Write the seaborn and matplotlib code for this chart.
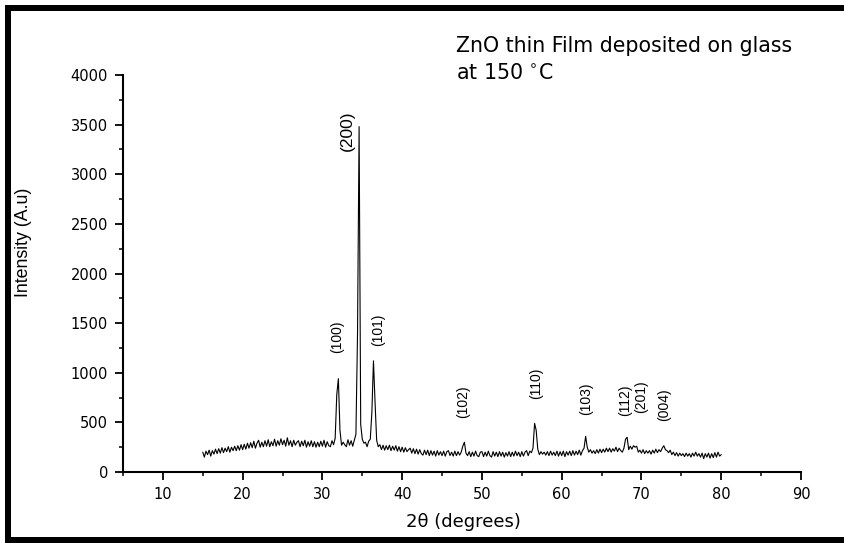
import numpy as np
import pandas as pd
import matplotlib
matplotlib.use("Agg")
import matplotlib.pyplot as plt
import seaborn as sns
from matplotlib.patches import Rectangle
from matplotlib.ticker import MultipleLocator

# ---------------- data ----------------
theta_start = 15.0
theta_step = 0.2
# one row per degree: values at .0, .2, .4, .6, .8
intensity = [
    200, 150, 210, 175, 220,   # 15
    160, 215, 180, 230, 185,   # 16
    235, 190, 245, 195, 240,   # 17
    205, 255, 200, 250, 215,   # 18
    260, 215, 265, 220, 275,   # 19
    225, 280, 230, 290, 240,   # 20
    295, 245, 310, 240, 290,   # 21
    320, 250, 300, 255, 315,   # 22
    260, 325, 255, 305, 265,   # 23
    330, 260, 315, 270, 335,   # 24
    275, 320, 260, 345, 270,   # 25
    315, 255, 320, 270, 300,   # 26
    315, 255, 310, 265, 320,   # 27
    250, 305, 260, 315, 255,   # 28
    305, 250, 300, 255, 310,   # 29
    260, 320, 250, 305, 265,   # 30
    255, 315, 275, 340, 780,   # 31
    940, 420, 270, 300, 275,   # 32
    255, 325, 270, 315, 260,   # 33
    320, 380, 1380, 3480, 480, # 34
    330, 290, 300, 255, 310,   # 35
    330, 600, 1120, 700, 320,  # 36
    255, 275, 225, 270, 220,   # 37
    265, 225, 270, 215, 260,   # 38
    220, 265, 210, 255, 205,   # 39
    250, 200, 245, 205, 225,   # 40
    240, 190, 235, 185, 230,   # 41
    180, 225, 185, 170, 220,   # 42
    175, 220, 165, 215, 170,   # 43
    210, 160, 215, 170, 205,   # 44
    165, 210, 160, 205, 215,   # 45
    165, 200, 160, 210, 165,   # 46
    205, 170, 200, 260, 300,   # 47
    190, 165, 205, 155, 200,   # 48
    160, 210, 165, 155, 200,   # 49
    205, 155, 200, 160, 210,   # 50
    165, 150, 205, 160, 200,   # 51
    155, 205, 160, 200, 150,   # 52
    195, 160, 205, 155, 200,   # 53
    160, 210, 165, 200, 155,   # 54
    205, 160, 200, 215, 165,   # 55
    210, 195, 240, 490, 420,   # 56
    230, 175, 205, 180, 200,   # 57
    170, 205, 165, 210, 170,   # 58
    200, 165, 210, 160, 205,   # 59
    165, 210, 155, 205, 170,   # 60
    210, 165, 215, 170, 210,   # 61
    175, 220, 170, 215, 240,   # 62
    360, 250, 200, 225, 190,   # 63
    215, 185, 225, 190, 230,   # 64
    195, 230, 200, 240, 205,   # 65
    240, 200, 235, 210, 250,   # 66
    205, 240, 215, 200, 240,   # 67
    330, 350, 225, 260, 230,   # 68
    265, 250, 260, 200, 220,   # 69
    190, 225, 185, 215, 190,   # 70
    215, 180, 220, 190, 230,   # 71
    195, 225, 205, 240, 265,   # 72
    225, 215, 195, 220, 175,   # 73
    200, 165, 195, 160, 190,   # 74
    165, 185, 155, 190, 160,   # 75
    185, 150, 190, 160, 200,   # 76
    160, 185, 150, 190, 135,   # 77
    185, 150, 190, 140, 185,   # 78
    145, 195, 150, 200, 160,   # 79
    175,                       # 80
]
two_theta = np.round(theta_start + theta_step * np.arange(len(intensity)), 1)

peak_labels = ["(100)", "(200)", "(101)", "(102)", "(110)", "(103)", "(112)", "(201)", "(004)"]
label_x = [31.8, 33.1, 37.0, 47.7, 56.8, 63.0, 68.0, 70.0, 72.8]
label_y = [1360, 3440, 1430, 705, 895, 735, 725, 755, 675]
label_size = [10, 12.5, 10, 10, 10, 10, 10, 10, 10]

x_ticks = [10, 20, 30, 40, 50, 60, 70, 80, 90]
y_ticks = [0, 500, 1000, 1500, 2000, 2500, 3000, 3500, 4000]

df = pd.DataFrame({"two_theta": two_theta, "intensity": intensity})

# ---------------- figure ----------------
sns.set_style("ticks")
plt.rcParams["font.family"] = ["DejaVu Sans"]
plt.rcParams["mathtext.fontset"] = "dejavusans"

W, H = 845, 543
fig = plt.figure(figsize=(W / 100, H / 100), dpi=100)
fig.patch.set_facecolor("white")


def fx(px):
    return px / W


def fy(py):
    return 1 - py / H


ax = fig.add_axes([fx(123), fy(472), (801 - 123) / W, (472 - 75) / H])
ax.set_facecolor("white")

sns.lineplot(data=df, x="two_theta", y="intensity", ax=ax, color="black",
             linewidth=0.8, estimator=None, sort=False)

ax.set_xlim(5, 90)
ax.set_ylim(0, 4000)
ax.set_xticks(x_ticks)
ax.set_yticks(y_ticks)
ax.xaxis.set_minor_locator(MultipleLocator(5))
ax.yaxis.set_minor_locator(MultipleLocator(250))
ax.set_xlabel("")
ax.set_ylabel("")

for s in ["top", "right"]:
    ax.spines[s].set_visible(False)
for s in ["left", "bottom"]:
    ax.spines[s].set_linewidth(1.5)
    ax.spines[s].set_color("black")

ax.tick_params(which="major", direction="out", length=5.8, width=1.3,
               labelsize=10.5, pad=5, colors="black")
ax.tick_params(which="minor", direction="out", length=3.2, width=1.1, colors="black")

for lab, x, y, sz in zip(peak_labels, label_x, label_y, label_size):
    ax.text(x, y, lab, rotation=90, ha="center", va="center", fontsize=sz,
            family=["Liberation Sans", "DejaVu Sans"], color="black")

# axis titles
fig.text(fx(24), fy(242), "Intensity (A.u)", rotation=90, ha="center", va="center",
         fontsize=12.8, family=["Liberation Sans", "DejaVu Sans"], color="black")
fig.text(fx(463), fy(522), "2\u03b8 (degrees)", ha="center", va="center",
         fontsize=13, color="black")

# annotation
fig.text(fx(456), fy(46), "ZnO thin Film deposited on glass", ha="left", va="center",
         fontsize=14.8, color="black")
fig.text(fx(456), fy(73), "at 150 $^{\\circ}$C", ha="left", va="center",
         fontsize=14.8, color="black")

# black frame (left, top, bottom)
for (x0, y0, x1, y1) in [(5, 5, 11, 543), (5, 5, 845, 11), (5, 537, 845, 543)]:
    fig.add_artist(Rectangle((fx(x0), fy(y1)), (x1 - x0) / W, (y1 - y0) / H,
                             transform=fig.transFigure, facecolor="black",
                             edgecolor="none"))

fig.savefig("out.png", dpi=100)
